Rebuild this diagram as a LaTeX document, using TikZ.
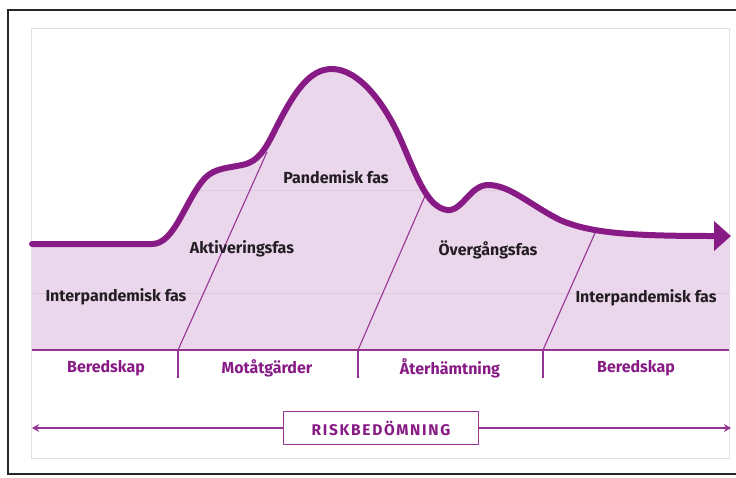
\documentclass[tikz,border=0pt]{standalone}
\usepackage{fontspec}
\setmainfont{Fira Sans}
\usetikzlibrary{arrows.meta}
\definecolor{pandpurple}{RGB}{136,26,134}
\definecolor{pandline}{RGB}{150,52,148}
\definecolor{pandfill}{RGB}{235,215,235}
\definecolor{pandgrid}{RGB}{224,200,224}
\definecolor{pandtext}{RGB}{35,30,35}

% the curve from the left edge to the right end
\newcommand{\pandemiccurve}{(32,244) -- (152,244)
  .. controls (175,244) and (185,200) .. (205,178)
  .. controls (215,168) and (228,168) .. (242,165)
  .. controls (258,162) and (265,150) .. (275,130)
  .. controls (295,90) and (310,69) .. (332,69)
  .. controls (358,69) and (385,102) .. (403,145)
  .. controls (418,180) and (428,207) .. (447,210)
  .. controls (462,212) and (470,185) .. (488,185)
  .. controls (510,185) and (530,205) .. (560,220)
  .. controls (590,233) and (630,236) .. (712,236)}

\begin{document}
\begin{tikzpicture}[x=1pt,y=-1pt,
    phase/.style={font=\bfseries\fontsize{16}{18}\selectfont, text=pandtext},
    stage/.style={font=\bfseries\fontsize{16}{18}\selectfont, text=pandpurple},
    divider/.style={pandline, line width=1.1pt}]
  \useasboundingbox (0,0) rectangle (736,477);

  % Frames
  \draw[black!85, line width=1.2pt] (737,10) -- (8,10) -- (8,474) -- (737,474);
  \draw[black!12, line width=1pt] (31,28) rectangle (729,458);

  % Area under the curve
  \fill[pandfill] \pandemiccurve -- (729,236) -- (729,350) -- (32,350) -- cycle;
  \begin{scope}
    \clip \pandemiccurve -- (729,236) -- (729,350) -- (32,350) -- cycle;
    \draw[pandgrid, line width=0.8pt] (32,190) -- (729,190);
    \draw[pandgrid, line width=0.8pt] (32,293) -- (729,293);
  \end{scope}

  % Phase boundaries
  \coordinate (b1) at (178,350);
  \coordinate (b2) at (358,350);
  \coordinate (b3) at (543,350);
  \coordinate (t1) at (267,152);
  \coordinate (t2) at (425,196);
  \coordinate (t3) at (595,233);
  \draw[divider] (b1) -- (t1);
  \draw[divider] (b2) -- (t2);
  \draw[divider] (b3) -- (t3);
  \draw[divider] (32,350) -- (729,350);
  \draw[divider] (b1) -- ++(0,28);
  \draw[divider] (b2) -- ++(0,28);
  \draw[divider] (b3) -- ++(0,28);

  % Curve
  \draw[pandpurple, line width=6pt, line cap=round,
    -{Triangle[length=17pt,width=29pt]}] \pandemiccurve -- (731,236);

  % Phases
  \node[phase] (inter1) at (116,297) {Interpandemisk fas};
  \node[phase] (aktiv) at (242,249) {Aktiveringsfas};
  \node[phase] (pandem) at (336,177) {Pandemisk fas};
  \node[phase] (overg) at (488,250) {Övergångsfas};
  \node[phase] (inter2) at (646,298) {Interpandemisk fas};

  % Stages
  \node[stage] (bered1) at (106,368) {Beredskap};
  \node[stage] (motat) at (267,368) {Motåtgärder};
  \node[stage] (aterh) at (450,368) {Återhämtning};
  \node[stage] (bered2) at (636,368) {Beredskap};

  % Risk assessment
  \node[draw=pandline, line width=1.2pt, minimum width=195pt, minimum height=33pt,
    font=\bfseries\fontsize{15.5}{18}\selectfont\addfontfeature{LetterSpace=11}, text=pandpurple]
    (risk) at (381,428) {RISKBEDÖMNING};
  \coordinate (riskL) at (32,428);
  \coordinate (riskR) at (731,428);
  \draw[divider, -{Stealth[length=7pt,width=8pt]}] (risk.west) -- (riskL);
  \draw[divider, -{Stealth[length=7pt,width=8pt]}] (risk.east) -- (riskR);
\end{tikzpicture}
\end{document}
